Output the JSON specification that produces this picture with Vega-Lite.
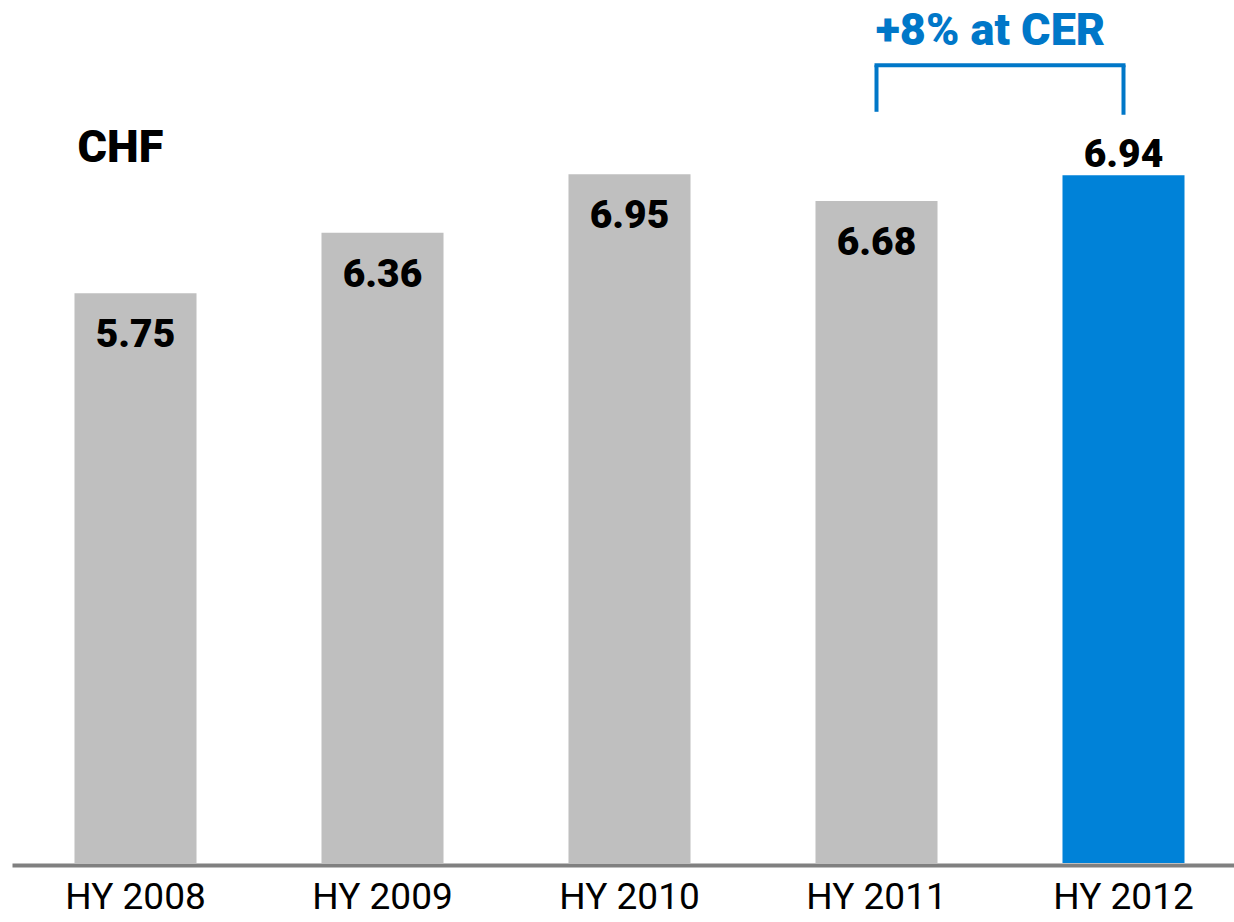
{
  "$schema": "https://vega.github.io/schema/vega-lite/v6.json",
  "autosize": {"type": "none"},
  "padding": {"left": 0, "top": 0, "right": 0, "bottom": 59},
  "width": 1234,
  "height": 863,
  "background": "white",
  "config": {"view": {"stroke": null}},
  "datasets": {
    "bars": [
      {"period": "HY 2008", "value": 5.75, "highlight": "no"},
      {"period": "HY 2009", "value": 6.36, "highlight": "no"},
      {"period": "HY 2010", "value": 6.95, "highlight": "no"},
      {"period": "HY 2011", "value": 6.68, "highlight": "no"},
      {"period": "HY 2012", "value": 6.94, "highlight": "yes"}
    ],
    "brackets": [
      {"period": "HY 2011", "low": 7.58, "high": 8.05},
      {"period": "HY 2012", "low": 7.55, "high": 8.05}
    ],
    "bracketTop": [
      {"from": "HY 2011", "to": "HY 2012", "level": 8.05}
    ],
    "notes": [
      {"period": "HY 2008", "level": 7.07, "label": "CHF"}
    ],
    "growth": [
      {"from": "HY 2011", "to": "HY 2012", "level": 8.25, "label": "+8% at CER"}
    ]
  },
  "layer": [
    {
      "data": {"name": "bars"},
      "mark": {"type": "bar"},
      "encoding": {
        "x": {
          "field": "period", "type": "nominal", "sort": null,
          "scale": {"range": [12, 1247], "paddingInner": 0.506, "paddingOuter": 0.253},
          "axis": {
            "title": null, "labelAngle": 0, "ticks": false,
            "domainColor": "#808080", "domainWidth": 4, "offset": 2,
            "labelFont": "Roboto", "labelFontSize": 37, "labelColor": "#000000",
            "labelPadding": 14
          }
        },
        "y": {
          "field": "value", "type": "quantitative",
          "scale": {"domain": [0, 8.708], "nice": false, "zero": true},
          "axis": null
        },
        "color": {
          "field": "highlight", "type": "nominal",
          "scale": {"domain": ["no", "yes"], "range": ["#BFBFBF", "#0082D8"]},
          "legend": null
        }
      }
    },
    {
      "data": {"name": "bars"},
      "transform": [{"filter": "datum.highlight === 'no'"}],
      "mark": {"type": "text", "font": "Roboto", "fontWeight": 900, "fontSize": 39, "baseline": "alphabetic", "dy": 54, "color": "#000000"},
      "encoding": {
        "x": {"field": "period", "type": "nominal", "sort": null},
        "y": {"field": "value", "type": "quantitative"},
        "text": {"field": "value", "type": "quantitative", "format": ".2f"}
      }
    },
    {
      "data": {"name": "bars"},
      "transform": [{"filter": "datum.highlight === 'yes'"}],
      "mark": {"type": "text", "font": "Roboto", "fontWeight": 900, "fontSize": 39, "baseline": "alphabetic", "dy": -8, "color": "#000000"},
      "encoding": {
        "x": {"field": "period", "type": "nominal", "sort": null},
        "y": {"field": "value", "type": "quantitative"},
        "text": {"field": "value", "type": "quantitative", "format": ".2f"}
      }
    },
    {
      "data": {"name": "brackets"},
      "mark": {"type": "rule", "color": "#0077C8", "strokeWidth": 4},
      "encoding": {
        "x": {"field": "period", "type": "nominal", "sort": null},
        "y": {"field": "low", "type": "quantitative"},
        "y2": {"field": "high"}
      }
    },
    {
      "data": {"name": "bracketTop"},
      "mark": {"type": "rule", "color": "#0077C8", "strokeWidth": 4, "strokeCap": "square"},
      "encoding": {
        "x": {"field": "from", "type": "nominal"},
        "x2": {"field": "to"},
        "y": {"field": "level", "type": "quantitative"}
      }
    },
    {
      "data": {"name": "notes"},
      "mark": {"type": "text", "font": "Roboto", "fontWeight": 900, "fontSize": 45, "align": "left", "baseline": "alphabetic", "dx": -58, "color": "#000000"},
      "encoding": {
        "x": {"field": "period", "type": "nominal"},
        "y": {"field": "level", "type": "quantitative"},
        "text": {"field": "label"}
      }
    },
    {
      "data": {"name": "growth"},
      "mark": {"type": "text", "font": "Roboto", "fontWeight": 900, "fontSize": 45, "align": "center", "baseline": "alphabetic", "dx": 114, "color": "#0077C8"},
      "encoding": {
        "x": {"field": "from", "type": "nominal"},
        "y": {"field": "level", "type": "quantitative"},
        "text": {"field": "label"}
      }
    }
  ]
}
